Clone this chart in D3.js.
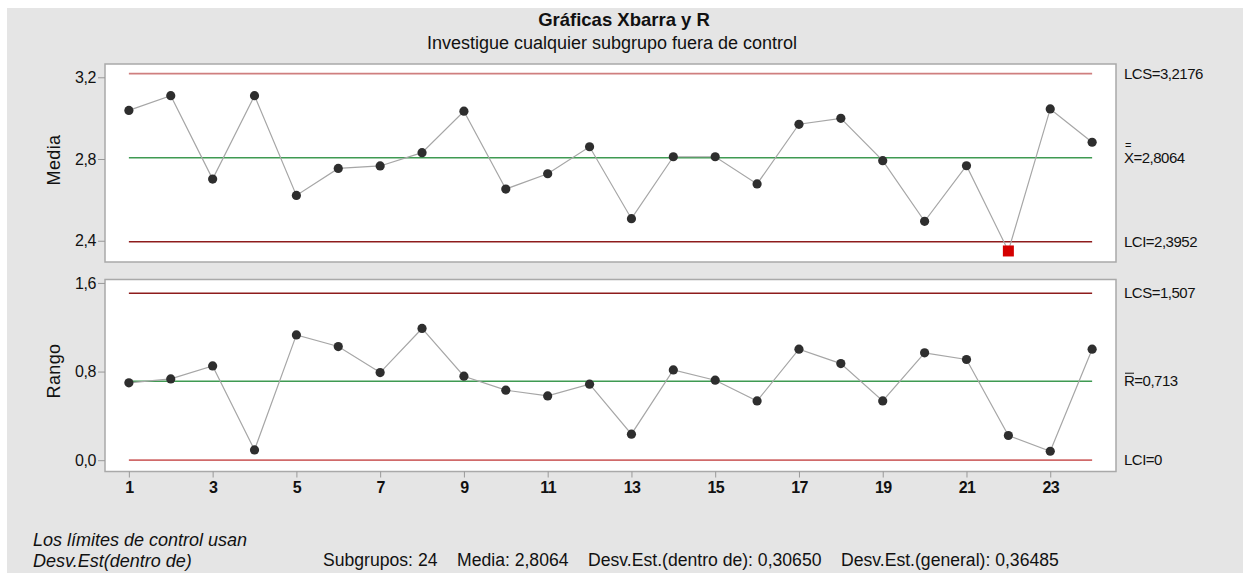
<!DOCTYPE html>
<html>
<head>
<meta charset="utf-8">
<script src="https://cdn.jsdelivr.net/npm/d3@7"></script>
<style>
  body { margin: 0; background: #fff; }
  text { font-family: "Liberation Sans", Arial, sans-serif; fill: #111; }
</style>
</head>
<body>
<div id="chart"></div>
<script>
// subgroup numbers and values
var subgroups = d3.range(1, 25);
var mediaValues = [3.038, 3.110, 2.702, 3.110, 2.622, 2.754, 2.766, 2.831, 3.034, 2.653, 2.728, 2.860,
                   2.508, 2.811, 2.811, 2.678, 2.970, 2.999, 2.792, 2.495, 2.767, 2.350, 3.045, 2.882];
var rangoValues = [0.698, 0.734, 0.851, 0.093, 1.131, 1.026, 0.791, 1.189, 0.758, 0.632, 0.580, 0.686,
                   0.235, 0.815, 0.722, 0.535, 1.002, 0.872, 0.535, 0.969, 0.909, 0.223, 0.081, 1.002];
var mediaLimits = [3.2176, 2.8064, 2.3952];   // LCS, centre, LCI
var rangoLimits = [1.507, 0.713, 0];
var mediaTicks = [2.4, 2.8, 3.2];
var rangoTicks = [0.0, 0.8, 1.6];
var xTicks = [1, 3, 5, 7, 9, 11, 13, 15, 17, 19, 21, 23];

var width = 1247, height = 573;
var svg = d3.select("#chart").append("svg")
    .attr("width", width)
    .attr("height", height);

// grey panel
svg.append("rect")
    .attr("x", 7).attr("y", 8)
    .attr("width", 1236).attr("height", height - 8)
    .style("fill", "#e5e5e5");

var left = 105, right = 1116;
var xScale = d3.scaleLinear().domain([0.43, 24.57]).range([left, right]);

var comma = function(d) { return d3.format(".1f")(d).replace(".", ","); };

function drawPanel(cfg) {
    var yScale = d3.scaleLinear().domain(cfg.domain).range([cfg.bottom, cfg.top]);
    var g = svg.append("g");

    g.append("rect")
        .attr("x", left).attr("y", cfg.top)
        .attr("width", right - left).attr("height", cfg.bottom - cfg.top)
        .style("fill", "#fff")
        .style("stroke", "#a9a9a9")
        .style("stroke-width", 1.5);

    var yAxis = g.append("g")
        .attr("transform", `translate(${left},0)`)
        .call(d3.axisLeft(yScale).tickValues(cfg.ticks).tickFormat(comma).tickSize(7).tickPadding(2));
    yAxis.select(".domain").remove();
    yAxis.selectAll("line").style("stroke", "#999");
    yAxis.selectAll("text")
        .style("font-size", "16px")
        .style("fill", "#111")
        .style("letter-spacing", "-0.4px")
        .style("font-family", "'Liberation Sans', Arial, sans-serif");

    g.append("text")
        .attr("transform", `translate(60,${cfg.labelY}) rotate(-90)`)
        .attr("text-anchor", "middle")
        .style("font-size", "18px")
        .style("letter-spacing", "0.4px")
        .text(cfg.label);

    // control lines
    var lineColors = cfg.lineColors;
    var lineWidths = cfg.lineWidths;
    g.selectAll(".ctl")
        .data(cfg.limits)
        .enter()
        .append("line")
        .attr("x1", xScale(1)).attr("x2", xScale(24))
        .attr("y1", function(d) { return yScale(d); })
        .attr("y2", function(d) { return yScale(d); })
        .style("stroke", function(d, i) { return lineColors[i]; })
        .style("stroke-width", function(d, i) { return lineWidths[i]; });

    var line = d3.line()
        .x(function(d, i) { return xScale(subgroups[i]); })
        .y(function(d) { return yScale(d); });
    g.append("path")
        .datum(cfg.values)
        .attr("d", line)
        .style("fill", "none")
        .style("stroke", "#a6a6a6")
        .style("stroke-width", 1.2);

    var lcs = cfg.limits[0], lci = cfg.limits[2];
    var out = function(d) { return d > lcs || d < lci; };

    cfg.values.forEach(function(d, i) {
        if (out(d)) {
            // out of control subgroup
            g.append("rect")
                .attr("x", xScale(subgroups[i]) - 5.5)
                .attr("y", yScale(d) - 5.5)
                .attr("width", 11).attr("height", 11)
                .style("fill", "#d40000");
        } else {
            g.append("circle")
                .attr("cx", xScale(subgroups[i]))
                .attr("cy", yScale(d))
                .attr("r", 4.6)
                .style("fill", "#2e2e2e");
        }
    });

    // right side labels
    var labels = cfg.rightLabels;
    g.selectAll(".rl")
        .data(cfg.limits)
        .enter()
        .append("text")
        .attr("x", 1124)
        .attr("y", function(d) { return yScale(d) + 5; })
        .style("font-size", "15px")
        .style("letter-spacing", "-0.5px")
        .text(function(d, i) { return labels[i]; });

    return yScale;
}

var yTop = drawPanel({
    top: 64, bottom: 262, domain: [2.296, 3.265],
    ticks: mediaTicks, label: "Media", labelY: 160,
    limits: mediaLimits, values: mediaValues,
    lineColors: ["#cf7f7f", "#3f9a52", "#8e1c1c"],
    lineWidths: [1.8, 1.6, 1.3],
    rightLabels: ["LCS=3,2176", "X=2,8064", "LCI=2,3952"]
});

var yBot = drawPanel({
    top: 279.5, bottom: 471.5, domain: [-0.102, 1.631],
    ticks: rangoTicks, label: "Rango", labelY: 371,
    limits: rangoLimits, values: rangoValues,
    lineColors: ["#8e1c1c", "#3f9a52", "#d06a6a"],
    lineWidths: [1.3, 1.6, 1.8],
    rightLabels: ["LCS=1,507", "R=0,713", "LCI=0"]
});

// double bar over X, single bar over R
svg.append("text")
    .attr("x", 1125).attr("y", yTop(mediaLimits[1]) - 9)
    .style("font-size", "11px")
    .text("=");
svg.append("line")
    .attr("x1", 1125).attr("x2", 1134)
    .attr("y1", yBot(rangoLimits[1]) - 8).attr("y2", yBot(rangoLimits[1]) - 8)
    .style("stroke", "#111").style("stroke-width", 1);

// x axis on the bottom panel
var xAxis = svg.append("g")
    .attr("transform", "translate(0,471.5)")
    .call(d3.axisBottom(xScale).tickValues(xTicks).tickSize(6).tickPadding(4));
xAxis.select(".domain").remove();
xAxis.selectAll("line").style("stroke", "#999");
xAxis.selectAll("text")
    .style("font-size", "16px")
    .style("font-weight", "bold")
    .style("fill", "#111")
    .style("letter-spacing", "-0.6px")
    .style("font-family", "'Liberation Sans', Arial, sans-serif");

// titles
svg.append("text")
    .attr("x", 624).attr("y", 26)
    .attr("text-anchor", "middle")
    .style("font-size", "18.5px")
    .style("font-weight", "bold")
    .text("Gráficas Xbarra y R");
svg.append("text")
    .attr("x", 612).attr("y", 49)
    .attr("text-anchor", "middle")
    .style("font-size", "18px")
    .text("Investigue cualquier subgrupo fuera de control");

// footer
svg.append("text")
    .attr("x", 33).attr("y", 546)
    .style("font-size", "18px").style("font-style", "italic")
    .text("Los límites de control usan");
svg.append("text")
    .attr("x", 33).attr("y", 567)
    .style("font-size", "18px").style("font-style", "italic")
    .text("Desv.Est(dentro de)");
svg.append("text")
    .attr("x", 323).attr("y", 566)
    .style("font-size", "17.6px")
    .attr("xml:space", "preserve")
    .style("white-space", "pre")
    .text("Subgrupos: 24    Media: 2,8064    Desv.Est.(dentro de): 0,30650    Desv.Est.(general): 0,36485");
</script>
</body>
</html>
